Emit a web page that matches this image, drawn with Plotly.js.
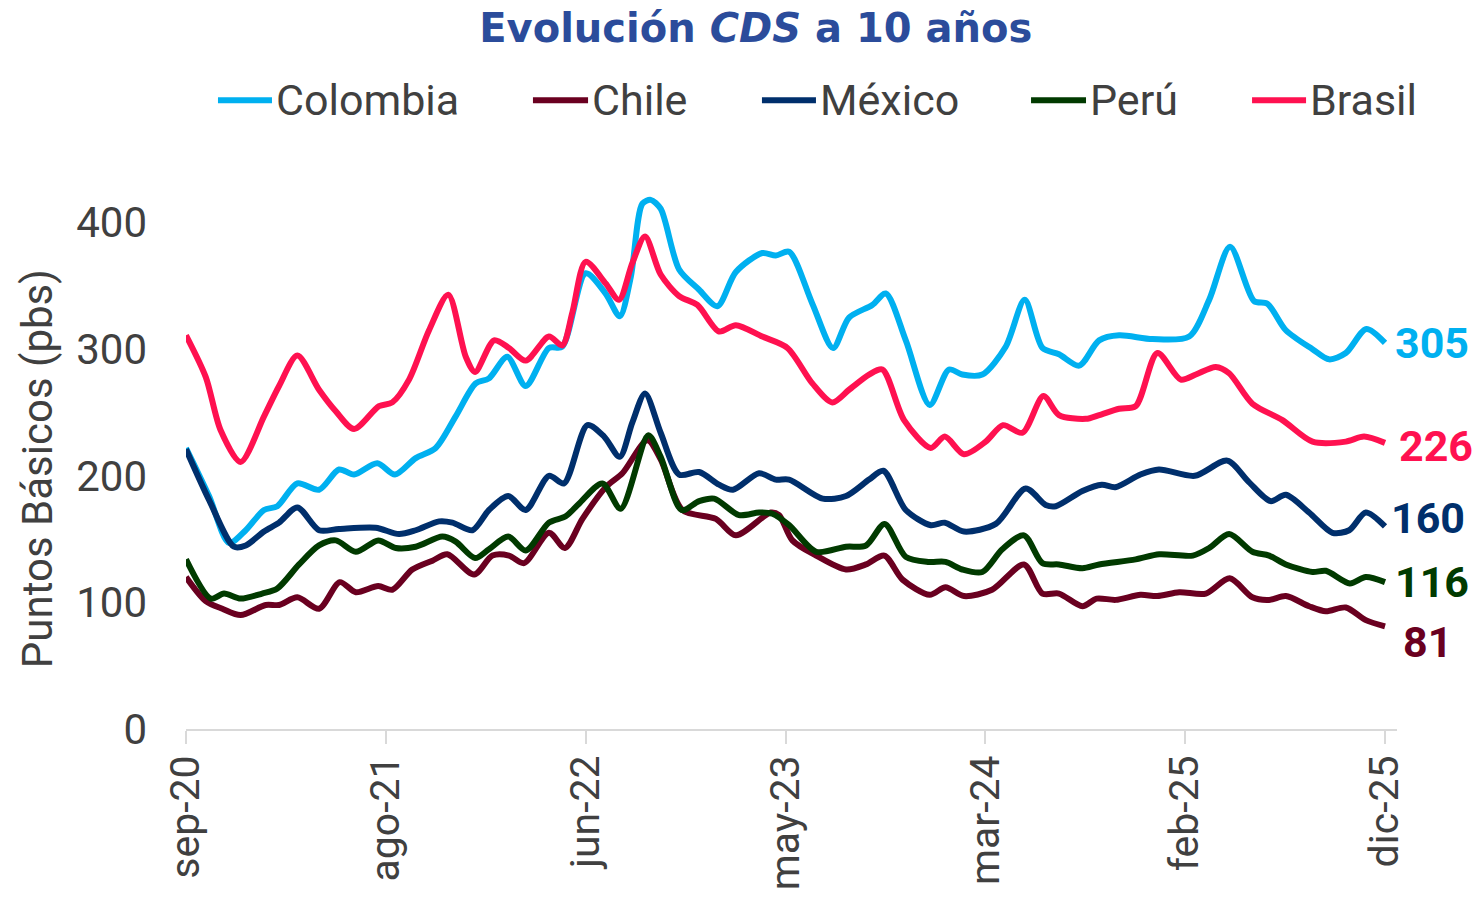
<!DOCTYPE html>
<html>
<head>
<meta charset="utf-8">
<script src="https://cdn.plot.ly/plotly-3.0.1.min.js"></script>
<style>html,body{margin:0;padding:0;background:#fff;}#chart{width:1479px;height:897px;}</style>
</head>
<body>
<div id="chart"></div>
<script>
// Months since sep-20 (x) and CDS 10y in basis points (y)
const tickMonths = [0, 10.5, 21, 31.5, 42, 52.5, 63];
const tickLabels = ['sep-20', 'ago-21', 'jun-22', 'may-23', 'mar-24', 'feb-25', 'dic-25'];
const seriesNames = ['Colombia', 'Chile', 'México', 'Perú', 'Brasil'];
const seriesColors = ['#00B0F0', '#6A0020', '#002F6C', '#013A00', '#FF1150'];

const colombiaX = [0,1.21,2.26,3.14,4.10,4.80,5.85,6.99,8.04,8.83,10.05,10.98,12.07,13.12,14.17,15.22,15.92,16.88,17.85,19.07,19.77,21.00,22.05,22.79,23.37,23.98,24.42,24.94,25.91,26.96,27.92,28.89,30.28,30.99,31.69,32.91,34.00,34.84,36.06,36.77,37.82,39.08,40.09,40.79,41.84,43.07,44.07,45.00,45.87,46.93,47.98,49.03,50.78,52.71,53.76,54.86,56.12,56.82,57.79,59.19,60.06,60.94,62.02,63];
const colombiaY = [222,184,147,157,173,176,194,189,205,201,210,201,214,222,247,273,277,294,271,301,302,360,344,326,357,415,418,411,363,347,334,361,376,374,377,336,301,325,335,344,307,256,284,280,280,302,339,301,296,287,307,311,308,310,339,381,338,336,315,300,292,297,316,305];

const chileX = [0,1.04,1.91,2.87,4.19,4.89,5.85,6.99,8.08,8.92,10.10,10.84,11.89,12.95,13.73,15.14,16.10,16.97,17.76,19.07,19.91,20.83,22.05,22.93,24.24,24.94,26.08,27.84,28.89,30.72,31.16,31.86,33.11,34.68,35.73,36.69,37.65,39.08,39.91,40.88,42.35,44.03,45.00,45.87,47.10,47.85,48.85,50.15,51.03,52.19,53.59,54.84,56.03,56.91,57.79,59.01,59.89,60.94,61.99,63];
const chileY = [120,101,95,90,98,98,104,95,116,108,113,110,126,133,138,122,137,137,131,155,143,166,191,202,228,213,173,166,153,171,169,149,137,126,130,137,118,106,112,105,110,130,107,107,97,103,102,106,105,108,107,119,104,102,105,97,93,96,86,81];

const mexicoX = [0,1.21,2.52,3.14,4.10,4.89,5.85,6.99,8.04,9.96,11.19,12.07,13.30,14.00,15.05,15.92,16.93,17.85,19.07,19.86,21.09,21.97,22.79,23.45,24.12,24.94,25.91,26.96,28.01,28.74,30.11,30.99,31.69,33.45,34.68,35.89,36.64,37.82,39.13,39.87,40.88,42.55,44.12,45.17,45.70,47.10,48.12,48.83,50.15,51.12,53.00,54.71,55.85,56.99,57.79,59.01,60.24,61.12,61.99,63];
const mexicoY = [221,181,144,145,156,163,175,157,158,159,154,157,164,163,157,173,184,173,200,194,240,231,215,242,265,234,201,203,193,189,202,197,197,182,184,197,204,173,161,163,156,162,190,177,176,188,193,191,201,205,200,212,195,180,185,171,155,157,171,160];

const peruX = [0,1.30,2.00,2.87,4.00,4.80,5.94,6.99,7.87,8.92,10.10,11.02,12.07,13.47,14.17,15.19,15.92,16.93,17.85,19.07,19.95,20.65,21.88,22.84,24.29,24.94,26.04,26.96,27.75,29.06,30.11,30.81,31.69,33.11,34.68,35.73,36.71,37.82,39.04,39.91,40.79,41.84,42.89,44.03,45.00,45.87,47.10,47.98,49.90,51.14,52.90,53.76,54.81,56.03,56.91,57.79,59.19,59.89,61.15,61.99,63];
const peruY = [134,103,107,103,107,111,130,145,149,140,149,143,144,152,148,135,142,152,141,163,168,178,194,174,232,215,173,180,182,169,171,170,161,140,144,145,162,136,132,132,126,124,142,153,131,130,127,130,134,138,137,143,154,140,137,130,124,125,115,120,116];

const brasilX = [0,1.04,1.82,2.87,4.10,4.89,5.85,6.99,7.87,8.83,10.14,10.84,11.72,12.77,13.78,14.70,15.19,16.19,16.97,17.85,19.07,19.77,20.30,21.00,22.05,22.75,23.45,24.12,24.94,25.91,26.87,28.01,28.89,30.28,31.60,32.91,33.96,34.84,35.89,36.59,37.73,39.13,39.87,40.88,42.02,42.93,43.95,45.05,45.87,47.28,47.98,49.03,49.90,51.04,52.27,53.06,54.11,54.81,56.03,57.61,59.19,60.94,61.90,63];
const brasilY = [311,278,236,211,247,271,295,268,251,237,255,258,276,315,343,294,282,307,301,291,310,303,329,369,352,339,368,389,359,342,335,314,319,310,301,273,258,268,280,284,244,222,231,217,227,240,234,263,248,245,248,253,255,297,276,280,286,281,257,244,227,227,231,226];

const xs = [colombiaX, chileX, mexicoX, peruX, brasilX];
const ys = [colombiaY, chileY, mexicoY, peruY, brasilY];

const labelShift = [[8, 0], [16, -16], [4, 8], [8, 0], [12, -3]];
const legendLineX = [[0.0264, 0.0710], [0.2865, 0.3320], [0.4756, 0.5202], [0.6978, 0.7432], [0.8803, 0.9249]];

const traces = seriesNames.map((n, i) => ({
  type: 'scatter', mode: 'lines', name: n,
  x: xs[i], y: ys[i],
  line: {color: seriesColors[i], width: 6, shape: 'spline', smoothing: 0.8},
  showlegend: false, hoverinfo: 'x+y+name'
}));

const annotations = [];
const shapes = [];
seriesNames.forEach((n, i) => {
  const yy = ys[i], xx = xs[i];
  annotations.push({
    x: xx[xx.length - 1], y: yy[yy.length - 1], xref: 'x', yref: 'y',
    text: '<b>' + yy[yy.length - 1] + '</b>', showarrow: false,
    xanchor: 'left', yanchor: 'middle',
    xshift: labelShift[i][0], yshift: labelShift[i][1],
    font: {family: 'Roboto', size: 43, color: seriesColors[i]}
  });
  shapes.push({
    type: 'line', xref: 'paper', yref: 'paper',
    x0: legendLineX[i][0], x1: legendLineX[i][1], y0: 1.129, y1: 1.129,
    line: {color: seriesColors[i], width: 6}
  });
  annotations.push({
    x: legendLineX[i][1] + 0.002, y: 1.129, xref: 'paper', yref: 'paper',
    text: n, showarrow: false, xanchor: 'left', yanchor: 'middle',
    font: {family: 'Roboto', size: 43, color: '#404040'}
  });
});

annotations.push({
  x: -0.122, y: 0.467, xref: 'paper', yref: 'paper',
  text: 'Puntos Básicos (pbs)', textangle: -90, showarrow: false,
  xanchor: 'center', yanchor: 'middle',
  font: {family: 'Roboto', size: 42, color: '#404040'}
});

const layout = {
  width: 1479, height: 897,
  margin: {l: 186, r: 82, t: 172, b: 168},
  paper_bgcolor: '#ffffff', plot_bgcolor: '#ffffff',
  title: {
    text: '<b>Evolución <i>CDS</i> a 10 años</b>',
    x: 0.511, xref: 'container', xanchor: 'center',
    y: 0.969, yref: 'container', yanchor: 'middle',
    font: {family: 'DejaVu Sans', size: 40, color: '#2B4C9B'}
  },
  xaxis: {
    range: [0, 63.63], tickmode: 'array', tickvals: tickMonths, ticktext: tickLabels,
    tickangle: -90, ticks: 'outside', ticklen: 13, tickwidth: 2, tickcolor: '#D9D9D9',
    ticklabelstandoff: -5,
    showline: true, linecolor: '#D9D9D9', linewidth: 2, showgrid: false, zeroline: false,
    tickfont: {family: 'Roboto', size: 41, color: '#404040'}
  },
  yaxis: {
    range: [0, 440], tickvals: [0, 100, 200, 300, 400],
    showgrid: false, zeroline: false, showline: false, ticks: '',
    ticklabelstandoff: 38,
    tickfont: {family: 'Roboto', size: 42, color: '#404040'}
  },
  annotations: annotations,
  shapes: shapes
};

Plotly.newPlot('chart', traces, layout, {displayModeBar: false, staticPlot: true});
</script>
</body>
</html>
